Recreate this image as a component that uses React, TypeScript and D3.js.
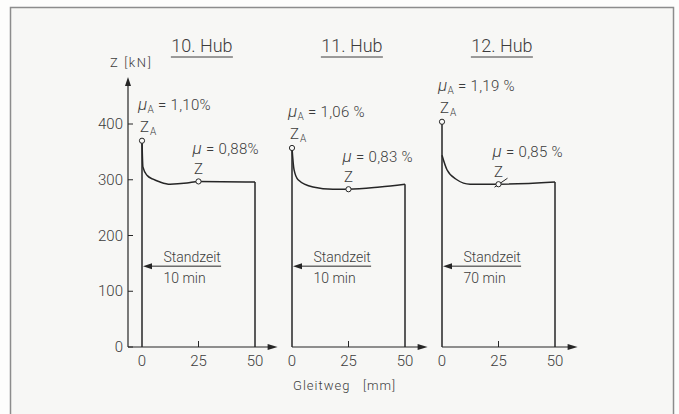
import * as d3 from "d3";

// Zugkraft-Gleitweg-Diagramme, drei Hübe
const hubTitles = ["10. Hub", "11. Hub", "12. Hub"];
const standzeiten = ["10 min", "10 min", "70 min"];
const muStart = ["1,10%", "1,06 %", "1,19 %"];
const muGleit = ["0,88%", "0,83 %", "0,85 %"];
const zaValues = [370, 357, 404];

const hub10X = [0, 0.4, 2.2, 4.9, 8, 12.4, 19.9, 25, 50];
const hub10Z = [370, 323, 308, 301, 296, 292, 294, 297, 296];
const hub11X = [0, 0.9, 2.7, 9.3, 18.1, 25, 38.9, 50];
const hub11Z = [357, 318, 300, 287, 283, 283, 287, 292];
const hub12X = [0, 2.2, 6.6, 12.4, 25, 50];
const hub12Z = [344, 318, 300, 292, 292, 296];

const curvesX = [hub10X, hub11X, hub12X];
const curvesZ = [hub10Z, hub11Z, hub12Z];

const yTicks = [0, 100, 200, 300, 400];
const xTicks = [0, 25, 50];

const W = 679;
const H = 414;
const FONT = "Roboto, 'DejaVu Sans', sans-serif";
const INK = "#262626";
const TXT = "#3c3c3c";

const yScale = d3.scaleLinear().domain([0, 400]).range([347, 124]);

function Arrow({ x, y, dir }: { x: number; y: number; dir: "up" | "right" | "left" }) {
  let pts: [number, number][];
  if (dir === "up") pts = [[x, y], [x - 3, y + 9], [x + 3, y + 9]];
  else if (dir === "right") pts = [[x, y], [x - 10, y - 3], [x - 10, y + 3]];
  else pts = [[x, y], [x + 9, y - 3], [x + 9, y + 3]];
  return <polygon points={pts.map((p) => p.join(",")).join(" ")} fill={INK} />;
}

function Panel({ i }: { i: number }) {
  const x0 = 142 + i * 150;
  const xScale = d3.scaleLinear().domain([0, 50]).range([x0, x0 + 113]);
  const xs = curvesX[i];
  const zs = curvesZ[i];
  const pts = xs.map((x, k) => [x, zs[k]] as [number, number]);

  const curve = d3
    .line<[number, number]>()
    .x((d) => xScale(d[0]))
    .y((d) => yScale(d[1]))
    .curve(d3.curveMonotoneX)(pts);
  const straight = d3
    .line<[number, number]>()
    .x((d) => xScale(d[0]))
    .y((d) => yScale(d[1]));

  const left = straight([[0, 0], [0, zaValues[i]], [0, zs[0]]]);
  const right = straight([[50, zs[zs.length - 1]], [50, 0]]);

  const zaX = xScale(0);
  const zaY = yScale(zaValues[i]);
  const k25 = xs.indexOf(25);
  const zX = xScale(25);
  const zY = yScale(zs[k25]);

  const axisStart = i === 0 ? 128 : x0;
  const axisEnd = xScale(60);
  const arrowY = yScale(145);

  return (
    <g>
      {/* Titel */}
      <text x={xScale(26.5)} y={52} textAnchor="middle" fontSize={18} fill={TXT}>
        {hubTitles[i]}
      </text>
      <line x1={xScale(26.5) - 31} x2={xScale(26.5) + 31} y1={57} y2={57} stroke={TXT} strokeWidth={1} />

      {/* x-Achse */}
      <line x1={axisStart} x2={axisEnd - 4} y1={yScale(0)} y2={yScale(0)} stroke={INK} strokeWidth={1.2} />
      <Arrow x={axisEnd} y={yScale(0)} dir="right" />
      <line x1={xScale(25)} x2={xScale(25)} y1={yScale(0)} y2={yScale(0) - 6} stroke={INK} strokeWidth={1} />
      {xTicks.map((t) => (
        <text key={t} x={xScale(t)} y={366} textAnchor="middle" fontSize={15} fill={TXT}>
          {t}
        </text>
      ))}

      {/* Kurve */}
      <path d={left ?? undefined} fill="none" stroke={INK} strokeWidth={1.5} />
      <path d={curve ?? undefined} fill="none" stroke={INK} strokeWidth={1.5} />
      <path d={right ?? undefined} fill="none" stroke={INK} strokeWidth={1.5} />

      {/* Z_A */}
      <circle cx={zaX} cy={zaY} r={2.6} fill="#fafaf8" stroke={INK} strokeWidth={1} />
      <text x={zaX - 4} y={zaY - 31} fontSize={15} fill={TXT} letterSpacing={0.3}>
        <tspan fontStyle="italic" fontSize={17}>μ</tspan>
        <tspan fontSize={10} dy={3}>A</tspan>
        <tspan dy={-3}>{" = " + muStart[i]}</tspan>
      </text>
      <text x={zaX - 2} y={zaY - 9} fontSize={15} fill={TXT}>
        Z<tspan fontSize={10} dy={3} dx={1}>A</tspan>
      </text>

      {/* Z */}
      {i === 2 && (
        <line x1={zX - 4} y1={zY + 3} x2={zX + 9} y2={zY - 6} stroke={INK} strokeWidth={1} />
      )}
      <circle cx={zX} cy={zY} r={2.6} fill="#fafaf8" stroke={INK} strokeWidth={1} />
      <text x={zX - 6} y={zY - 27} fontSize={15} fill={TXT} letterSpacing={0.3}>
        <tspan fontStyle="italic" fontSize={17}>μ</tspan>
        <tspan>{" = " + muGleit[i]}</tspan>
      </text>
      <text x={zX} y={zY - 7} textAnchor="middle" fontSize={15} fill={TXT}>
        Z
      </text>

      {/* Standzeit */}
      <line x1={xScale(0) + 6} x2={xScale(35)} y1={arrowY} y2={arrowY} stroke={INK} strokeWidth={1} />
      <Arrow x={xScale(0) + 1} y={arrowY} dir="left" />
      <text x={xScale(9.5)} y={arrowY - 4} fontSize={14} fill={TXT}>
        Standzeit
      </text>
      <text x={xScale(9.5)} y={arrowY + 17} fontSize={14} fill={TXT}>
        {standzeiten[i]}
      </text>
    </g>
  );
}

export default function App() {
  return (
    <svg
      width={W}
      height={H}
      viewBox={`0 0 ${W} ${H}`}
      style={{ position: "absolute", left: 0, top: 0, background: "#fdfdfc" }}
      fontFamily={FONT}
      fontWeight={300}
    >
      <rect x={10.5} y={7.5} width={663} height={420} fill="#f7f7f5" stroke="#8c8c8c" strokeWidth={1.5} />

      {/* y-Achse */}
      <line x1={128} x2={128} y1={yScale(0)} y2={84} stroke={INK} strokeWidth={1.2} />
      <Arrow x={128} y={77} dir="up" />
      <text x={110} y={67} fontSize={13} fill={TXT} letterSpacing={1.6}>
        Z [kN]
      </text>
      {yTicks.map((t) => (
        <g key={t}>
          <line x1={128} x2={133} y1={yScale(t)} y2={yScale(t)} stroke={INK} strokeWidth={1} />
          <text x={123} y={yScale(t) + 5} textAnchor="end" fontSize={15} fill={TXT}>
            {t}
          </text>
        </g>
      ))}

      {hubTitles.map((_, i) => (
        <Panel key={i} i={i} />
      ))}

      <text x={293} y={390} fontSize={13} fill={TXT} letterSpacing={1}>
        Gleitweg{"\u00a0\u00a0\u00a0"}[mm]
      </text>
    </svg>
  );
}
